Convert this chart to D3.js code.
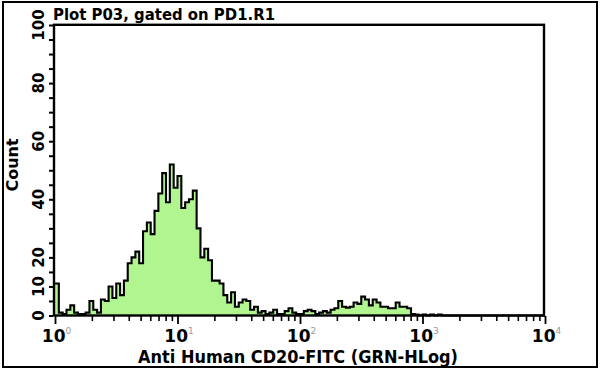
<!DOCTYPE html>
<html><head><meta charset="utf-8">
<script src="https://cdn.jsdelivr.net/npm/d3@7"></script>
<style>body{margin:0;background:#fff}svg{display:block}text{font-family:"DejaVu Sans",sans-serif;font-weight:bold;fill:#000}</style>
</head><body><div id="chart"></div>
<script>
// Histogram counts, 128 log channels spanning 10^0 .. 10^4 (32 channels per decade)
const counts = [
 11,1,0.5,2,3.5,1,0.5,0.5,1,5, 2,1,5.5,5,10,6,11,7,12,18,
 20,22,18,29,32,28,36,42,49,39, 52,44,48,37,39,40,43,30,20,23,
 19,12,12,11,7,4.5,8,3,4.5,5.5, 5,2,3,1,1.5,0.5,1,2,0.5,0.5,
 1.5,2.5,1,0.5,0.5,1.5,2,1.5,0.5,1, 1.5,1,2,2.5,5,3,2.7,3,4.5,4,
 6.5,5.5,3.5,5.5,4.5,3,3,2.5,2.5,4.5, 3,3,2.5,0.5,0.3,0,0.3,0,0.3,0,
 0.3,0,0,0,0,0,0,0,0,0, 0,0,0,0,0,0,0,0,0,0,
 0,0,0,0,0,0,0,0
];
const channelsPerDecade = 32;
const xDomain = [1, 10000];
const yDomain = [0, 100];
const yTicks = [0,5,10,15,20,25,30,35,40,45,50,55,60,65,70,75,80,85,90,95,100];
const yLabels = [0,10,20,40,60,80,100];
const xMajor = [1,10,100,1000,10000];
const xLabelExp = ["0","1","2","3","4"];
const title = "Plot P03, gated on PD1.R1";
const xTitle = "Anti Human CD20-FITC (GRN-HLog)";
const yTitle = "Count";

const W = 600, H = 370;
const svg = d3.select("#chart").append("svg").attr("width", W).attr("height", H);

// outer frame
svg.append("rect").attr("x",3).attr("y",2).attr("width",594).attr("height",365)
  .attr("fill","none").attr("stroke","#000").attr("stroke-width",2);

const x = d3.scaleLog().domain(xDomain).range([55, 545]);
const y = d3.scaleLinear().domain(yDomain).range([315.5, 25]);

// histogram
const pts = counts.map((c,i)=>({v: Math.pow(10, i/channelsPerDecade), c}));
pts.push({v: xDomain[1], c: counts[counts.length-1]});
const area = d3.area().curve(d3.curveStepAfter).x(d=>x(d.v)).y0(y(0)).y1(d=>y(d.c));
const line = d3.line().curve(d3.curveStepAfter).x(d=>x(d.v)).y(d=>y(d.c));
svg.append("path").datum(pts).attr("d", area).attr("fill","#b0f590");
svg.append("path").datum(pts).attr("d", line).attr("fill","none").attr("stroke","#000").attr("stroke-width",2.1);

// plot frame
svg.append("rect").attr("x",54).attr("y",24.8).attr("width",490).attr("height",290.7)
  .attr("fill","none").attr("stroke","#000").attr("stroke-width",2.4);

// left ticks
const yAxis = d3.axisLeft(y).tickValues(yTicks).tickSize(4).tickFormat("");
const gy = svg.append("g").attr("transform","translate(53,0)").call(yAxis);
gy.select(".domain").remove();
gy.selectAll(".tick line").attr("stroke","#000").attr("stroke-width",2);

yLabels.forEach(v=>{
  svg.append("text").attr("transform",`translate(44,${y(v)}) rotate(-90)`)
    .attr("text-anchor","middle").attr("font-size",15).text(v);
});

// bottom ticks
const minor = [];
for (let d=0; d<4; d++) for (let k=2;k<=9;k++) minor.push(k*Math.pow(10,d));
const gxMinor = svg.append("g").attr("transform","translate(0,316)")
  .call(d3.axisBottom(x).tickValues(minor).tickSize(5).tickFormat(""));
gxMinor.select(".domain").remove();
gxMinor.selectAll(".tick line").attr("stroke","#000").attr("stroke-width",1.6);
const gxMajor = svg.append("g").attr("transform","translate(0,316)")
  .call(d3.axisBottom(x).tickValues(xMajor).tickSize(8).tickFormat(""));
gxMajor.select(".domain").remove();
gxMajor.selectAll(".tick line").attr("stroke","#000").attr("stroke-width",1.8);

xMajor.forEach((v,i)=>{
  const t = svg.append("text").attr("x", x(v)+1.5).attr("y",342).attr("text-anchor","middle").attr("font-size",17);
  t.append("tspan").text("10");
  t.append("tspan").attr("dy",-8).attr("font-size",9).attr("fill","#999").attr("font-weight","normal").text(xLabelExp[i]);
});

// titles
svg.append("text").attr("x",53).attr("y",20).attr("font-size",16)
  .attr("textLength",222).attr("lengthAdjust","spacingAndGlyphs").text(title);
svg.append("text").attr("x",138).attr("y",363).attr("font-size",17)
  .attr("textLength",320).attr("lengthAdjust","spacingAndGlyphs").text(xTitle);
svg.append("text").attr("transform","translate(18,165) rotate(-90)").attr("text-anchor","middle")
  .attr("font-size",16).text(yTitle);
</script></body></html>
